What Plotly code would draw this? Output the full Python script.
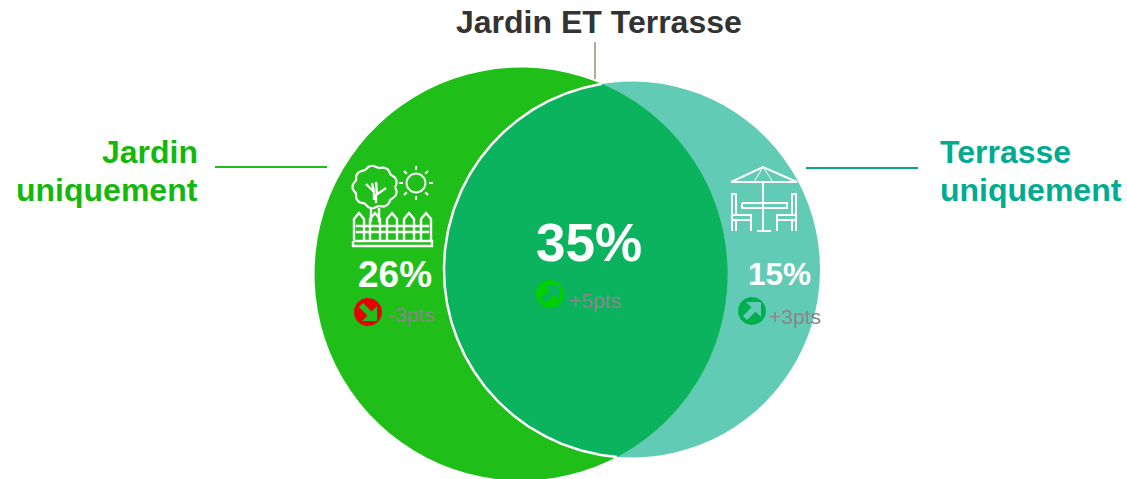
import numpy as np
import plotly.graph_objects as go

# Data
segments = ["Jardin uniquement", "Jardin ET Terrasse", "Terrasse uniquement"]
shares = [26, 35, 15]
deltas = [-3, 5, 3]

# Geometry (page pixels)
W, H = 1127, 479
GARDEN = (521, 274, 206.5)
TERRACE = (632, 269.5, 188)
GREEN, TEAL, LENS = "#1FBE18", "#62CBB6", "#0BB35F"

fig = go.Figure()


def poly(xs, ys, color):
    fig.add_trace(go.Scatter(x=list(xs), y=list(ys), mode="lines", fill="toself", fillcolor=color,
                             line=dict(width=0, color=color), hoverinfo="skip", showlegend=False))


def line(xs, ys, color="white", width=2.4):
    fig.add_trace(go.Scatter(x=list(xs), y=list(ys), mode="lines", line=dict(color=color, width=width),
                             hoverinfo="skip", showlegend=False))


def arc(c, a0, a1, n=240):
    a = np.linspace(a0, a1, n)
    return c[0] + c[2] * np.cos(a), c[1] + c[2] * np.sin(a)


def circle_poly(cx, cy, r, color):
    x, y = arc((cx, cy, r), 0, 2 * np.pi, 90)
    poly(x, y, color)


def label(x, y, s, size, color, anchor="center", bold=True):
    fig.add_annotation(x=x, y=y, text=f"<b>{s}</b>" if bold else s, showarrow=False, xanchor=anchor,
                       yanchor="middle", xref="x", yref="y",
                       font=dict(family="Liberation Sans, Arial, sans-serif", size=size, color=color))


# Intersections of the two circles
dx, dy = TERRACE[0] - GARDEN[0], TERRACE[1] - GARDEN[1]
d = np.hypot(dx, dy)
base = np.arctan2(dy, dx)
alpha = np.arccos((d**2 + GARDEN[2]**2 - TERRACE[2]**2) / (2 * d * GARDEN[2]))
beta = np.arccos((d**2 + TERRACE[2]**2 - GARDEN[2]**2) / (2 * d * TERRACE[2]))

circle_poly(TERRACE[0], TERRACE[1], TERRACE[2], TEAL)
circle_poly(GARDEN[0], GARDEN[1], GARDEN[2], GREEN)
gx, gy = arc(GARDEN, base - alpha, base + alpha)
tx, ty = arc(TERRACE, base + np.pi - beta, base + np.pi + beta)
poly(np.r_[gx, tx], np.r_[gy, ty], LENS)
line(tx, ty, "white", 2.5)

# Leader lines
line([215, 327], [167, 167], "#1FBE18", 2)
line([806, 918], [168, 168], "#00A88F", 2)
line([595, 595], [42, 79], "#A9AF9B", 2)

# Fence + tree + sun icon
a = np.linspace(0, 2 * np.pi, 200)
rr = 20 + 2.6 * np.abs(np.sin(a * 4.5))
line(375 + rr * np.cos(a), 187 + 0.95 * rr * np.sin(a), "white", 2.2)
line([371, 371], [208, 222])
line([379, 379], [208, 222])
line([374, 374, 366], [200, 192, 184])
line([374, 372], [192, 183])
line([376, 376, 386], [203, 195, 188])
line([377, 376], [195, 182])
for px in [359, 375, 392, 409, 426]:
    line([px - 5, px - 5, px, px + 5, px + 5], [240, 219, 213, 219, 240])
line([356, 429], [226, 226])
line([356, 429], [232, 232])
line([353, 432, 432, 353, 353], [241, 241, 246, 246, 241])
sx, sy = arc((416, 183, 9.5), 0, 2 * np.pi, 60)
line(sx, sy, "white", 2)
for k in range(8):
    t = k * np.pi / 4
    line([416 + 13 * np.cos(t), 416 + 17 * np.cos(t)], [183 + 13 * np.sin(t), 183 + 17 * np.sin(t)], "white", 2)

# Umbrella + table + chairs icon
line([731, 797, 763, 731], [182, 182, 167, 182], "white", 2)
line([754, 763, 773], [182, 167, 182], "white", 1)
line([763, 763], [182, 231], "white", 2)
line([757, 771], [231, 231], "white", 2)
line([742, 787, 787, 742, 742], [203, 203, 208, 208, 203], "white", 2)
for s in (1, -1):
    c = lambda v: 764 + s * v
    line([c(-32), c(-32), c(-28), c(-28), c(-28)], [231, 194, 194, 215, 215], "white", 2)
    line([c(-32), c(-13), c(-13), c(-32)], [215, 215, 220, 220], "white", 2)
    line([c(-13), c(-13)], [220, 231], "white", 2)
    line([c(-28), c(-28)], [220, 231], "white", 2)


# Trend badges
def badge(cx, cy, up, color, arrow):
    circle_poly(cx, cy, 14, color)
    sy_ = -1 if up else 1
    hx, hy = cx + 9, cy + sy_ * 9
    line([cx - 7, cx + 4], [cy - sy_ * 7, cy + sy_ * 4], arrow, 6)
    poly([hx, hx - 15, hx], [hy, hy, hy - sy_ * 15], arrow)


badge(368, 312, deltas[0] > 0, "#E60000", GREEN)
badge(550, 294, deltas[1] > 0, "#00D000", LENS)
badge(752, 311, deltas[2] > 0, "#00AE4E", TEAL)

# Labels
label(598.5, 22, segments[1], 32, "#333333")
label(200, 152, "Jardin", 32, "#14B80C", "right")
label(200, 190, "uniquement", 32, "#14B80C", "right")
label(937.5, 152, "Terrasse", 32, "#00AC91", "left")
label(937.5, 190, "uniquement", 32, "#00AC91", "left")
label(589, 242, f"{shares[1]}%", 53, "white")
label(395, 274, f"{shares[0]}%", 37, "white")
label(779.5, 274, f"{shares[2]}%", 31.5, "white")
GREY = "#8C8589"
label(386, 314, f"{deltas[0]}pts", 21, GREY, "left", False)
label(567, 300, f"+{deltas[1]}pts", 21, GREY, "left", False)
label(767, 316, f"+{deltas[2]}pts", 21, GREY, "left", False)

fig.update_layout(width=W, height=H, margin=dict(l=0, r=0, t=0, b=0), paper_bgcolor="white",
                  plot_bgcolor="white", showlegend=False,
                  xaxis=dict(range=[0, W], visible=False, fixedrange=True),
                  yaxis=dict(range=[H, 0], visible=False, fixedrange=True))
fig.write_html("out.html", config=dict(displayModeBar=False),
               post_script="document.body.style.margin='0';document.body.style.overflow='hidden';")
